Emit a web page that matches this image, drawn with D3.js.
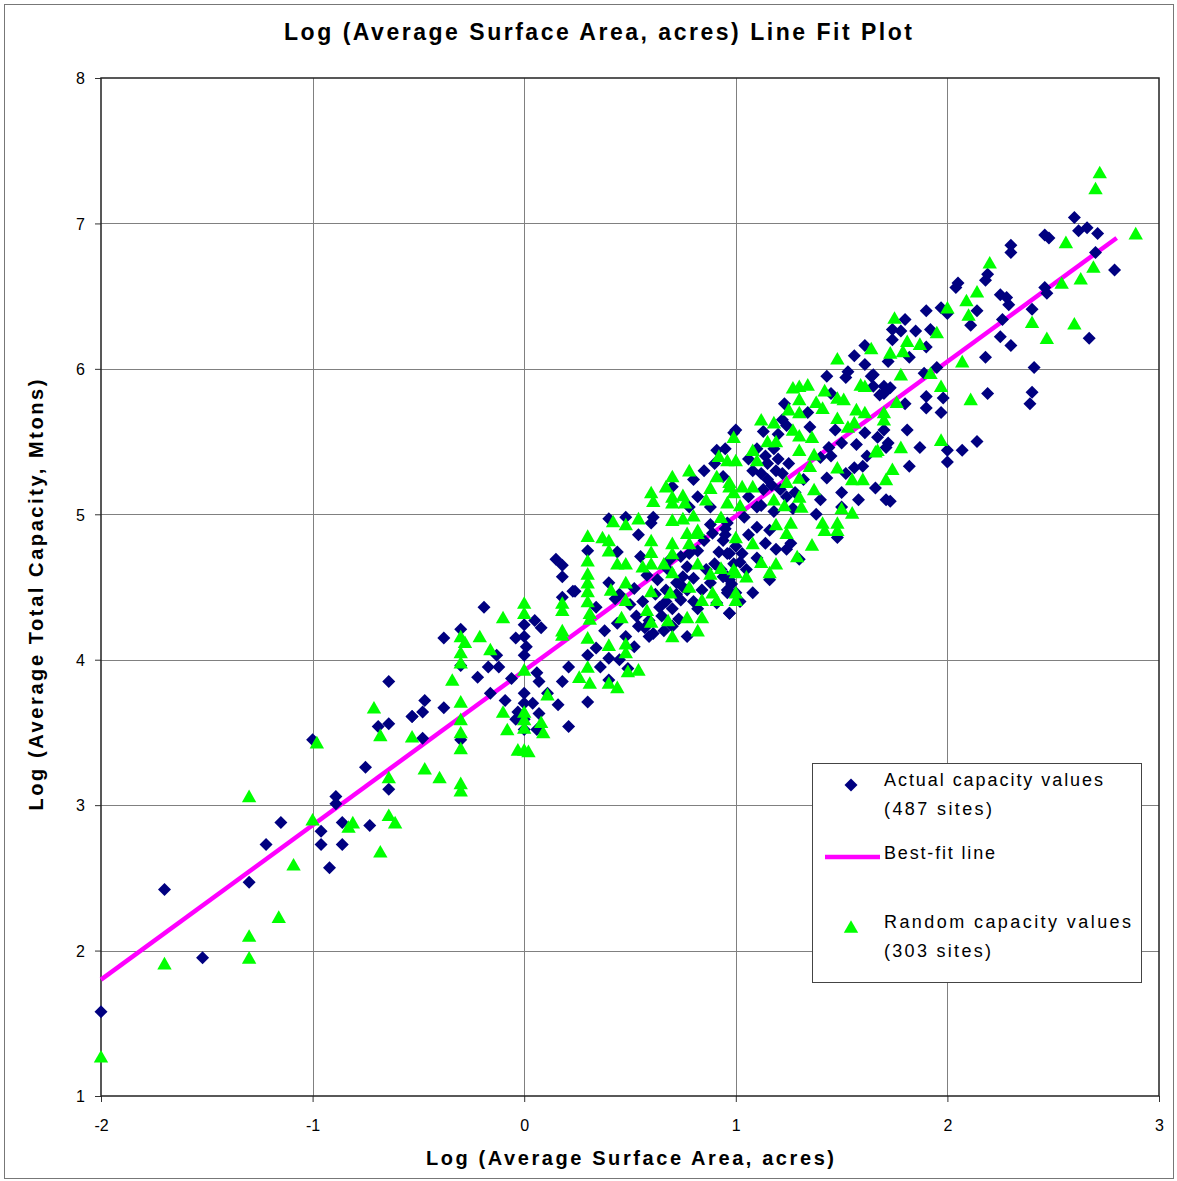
<!DOCTYPE html>
<html lang="en">
<head>
  <meta charset="UTF-8">
  <title>Log (Average Surface Area, acres) Line Fit Plot</title>
  <style>
    body {
      margin: 0;
      background: #fff;
      font-family: "Liberation Sans", Arial, sans-serif;
    }
    svg {
      display: block;
    }
  </style>
  <script src="https://d3js.org/d3.v7.min.js"></script>
</head>
<body>

<svg width="1177" height="1181"></svg>

<script>
  // values: [log area, log capacity]
  const actualSites = [
    [-0.64,3.85],[-0.53,3.61],[-0.69,3.54],[-0.64,3.56],[-1.00,3.45],[-0.75,3.26],[-0.89,3.06],[-0.89,3.01],
    [-0.64,3.11],[-1.15,2.88],[-0.86,2.88],[-0.73,2.86],[-0.96,2.82],[-1.22,2.73],[-0.96,2.73],[-0.86,2.73],
    [-0.92,2.57],[-1.30,2.47],[-1.70,2.42],[-1.52,1.95],[-2.00,1.58],
    [0.15,4.69],[0.18,4.65],[0.18,4.57],[0.23,4.47],[0.18,4.43],[-0.19,4.36],[0.05,4.27],[0.08,4.22],
    [0.00,4.24],[-0.30,4.21],[-0.38,4.15],[-0.04,4.15],[0.00,4.16],[0.01,4.09],[-0.13,4.03],[0.00,4.03],
    [-0.17,3.95],[-0.12,3.95],[-0.30,3.96],[0.21,3.95],[-0.22,3.88],[0.06,3.91],[-0.06,3.87],[0.07,3.85],
    [0.18,3.85],[-0.16,3.77],[0.00,3.77],[0.11,3.77],[-0.47,3.72],[-0.09,3.72],[0.04,3.70],[0.16,3.69],
    [0.00,3.70],[-0.38,3.67],[-0.48,3.64],[-0.03,3.64],[0.07,3.63],[-0.53,3.61],[-0.04,3.59],[0.00,3.59],
    [0.21,3.54],[0.06,3.52],[-0.48,3.46],[-0.30,3.45],[0.00,3.52],
    [0.24,4.47],[0.30,4.75],[0.44,4.74],[0.54,4.86],[0.55,4.71],[0.60,4.94],[0.40,4.53],[0.43,4.42],
    [0.52,4.49],[0.34,4.36],[0.53,4.30],[0.54,4.23],[0.59,4.27],[0.64,4.36],[0.67,4.48],[0.67,4.40],
    [0.74,4.41],[0.72,4.53],[0.75,4.57],[0.75,4.50],[0.77,4.48],[0.77,4.64],[0.78,4.73],[0.82,4.75],
    [0.85,4.82],[0.89,4.87],[0.94,4.82],[0.97,4.73],[0.99,4.66],[0.97,4.55],[0.96,4.46],[0.97,4.32],
    [0.90,4.66],[0.61,4.18],[0.66,4.20],[0.70,4.23],[0.77,4.16],[0.59,4.16],[0.48,4.16],[0.52,4.09],
    [0.34,4.08],[0.40,4.01],[0.30,4.03],[0.36,3.95],[0.45,4.00],[0.49,3.94],[0.40,3.86],[0.30,3.71],
    [0.69,4.69],[0.74,4.71],[0.88,4.53],[0.91,4.39],[0.94,4.57],[1.00,4.46],
    [0.45,4.45],[0.50,4.38],[0.56,4.40],[0.62,4.45],[0.65,4.30],[0.70,4.35],[0.72,4.45],[0.63,4.55],
    [0.58,4.58],[0.68,4.62],[0.80,4.40],[0.82,4.35],[0.73,4.28],[0.57,4.22],[0.44,4.25],[0.38,4.20],
    [0.86,4.62],[0.92,4.74],[0.88,4.93],[0.95,4.90],[0.80,4.56],[0.84,4.48],
    [0.99,5.56],[0.91,5.44],[0.80,5.24],[0.70,5.19],[0.82,5.12],[0.61,4.98],[0.48,4.98],[0.40,4.97],
    [0.85,5.30],[0.90,5.35],[0.95,5.45],[0.88,5.05],[0.78,5.05],
    [1.23,5.76],[1.22,5.65],[1.24,5.61],[1.34,5.70],[1.35,5.60],[1.45,5.83],[1.47,5.58],[1.44,5.46],
    [1.40,5.39],[1.50,5.49],[1.57,5.48],[1.61,5.56],[1.70,5.83],[1.72,5.49],[1.56,5.32],[1.60,5.33],
    [1.43,5.25],[1.50,5.15],[1.71,5.10],[1.50,5.05],[1.48,4.84],[1.00,5.58],[1.13,5.57],[1.15,5.35],
    [1.19,5.30],[1.15,5.24],[1.21,5.17],[1.24,5.12],[1.13,5.17],[1.10,5.05],[1.12,5.06],[1.27,5.04],
    [1.32,5.24],[0.94,5.26],[0.96,4.94],[1.04,4.98],[1.10,4.91],[1.16,4.89],[1.06,4.86],[1.14,4.80],
    [1.19,4.76],[1.24,4.76],[1.26,4.80],[1.30,4.69],[0.96,4.73],[1.03,4.73],[1.02,4.67],[0.96,4.57],
    [1.16,4.55],[1.08,4.46],[0.96,4.48],[0.97,4.32],
    [1.10,5.45],[1.14,5.40],[1.18,5.45],[1.20,5.38],[1.22,5.28],[1.17,5.20],[1.12,5.28],[1.08,5.30],
    [1.06,5.12],[1.18,5.02],[1.25,5.35],[1.28,5.15],[1.06,5.38],[1.20,5.55],
    [0.95,4.86],[1.00,4.78],[1.05,4.62],[0.98,4.52],[1.10,4.70],[1.02,4.40],[0.93,4.62],
    [1.45,5.40],[1.52,5.28],[1.62,5.40],[1.66,5.18],[1.58,5.10],[1.40,5.10],[1.38,5.00],
    [2.46,6.92],[2.30,6.85],[2.30,6.80],[2.19,6.65],[2.18,6.61],[2.05,6.59],[2.04,6.56],[2.25,6.51],
    [2.28,6.49],[2.29,6.44],[2.14,6.40],[2.00,6.38],[1.97,6.42],[2.11,6.30],[1.90,6.40],[1.80,6.34],
    [1.74,6.27],[1.78,6.26],[1.85,6.26],[1.92,6.27],[1.74,6.20],[2.40,6.41],[2.46,6.56],[2.26,6.34],
    [2.25,6.22],[2.30,6.16],[1.90,6.15],[1.82,6.08],[1.72,6.05],[2.18,6.08],[1.95,6.01],[1.89,5.97],
    [2.41,6.01],[1.65,5.96],[1.65,5.88],[1.70,5.88],[1.73,5.87],[1.68,5.82],[1.80,5.76],[1.90,5.81],
    [1.98,5.80],[1.90,5.73],[1.97,5.70],[2.19,5.83],[2.40,5.84],[2.39,5.76],[1.81,5.58],[1.70,5.58],
    [1.67,5.53],[1.71,5.46],[1.87,5.46],[2.00,5.44],[2.00,5.36],[2.07,5.44],[2.14,5.50],[1.82,5.33],
    [2.60,7.04],[2.62,6.95],[2.66,6.97],[2.71,6.93],[2.48,6.90],[2.70,6.80],[2.79,6.68],[2.47,6.52],
    [2.67,6.21],
    [1.61,6.16],[1.56,6.09],[1.61,6.03],[1.53,5.98],[1.43,5.95],[1.64,5.95],[1.52,5.94],[1.73,5.09]
  ];

  const randomSites = [
    [-0.71,3.67],[-0.68,3.48],[-0.53,3.47],[-0.98,3.43],[-1.30,3.06],[-0.64,3.19],[-1.00,2.90],[-0.81,2.88],
    [-0.83,2.85],[-0.64,2.93],[-0.61,2.88],[-0.68,2.68],[-1.09,2.59],[-1.16,2.23],[-1.30,2.10],[-1.30,1.95],
    [-1.70,1.91],[-2.00,1.27],[-0.47,3.25],
    [0.00,4.39],[0.00,4.32],[0.18,4.39],[0.18,4.34],[-0.10,4.29],[0.18,4.20],[0.18,4.17],[-0.30,4.16],
    [-0.28,4.12],[-0.21,4.16],[-0.30,4.05],[-0.30,3.98],[-0.16,4.07],[0.00,3.93],[-0.34,3.86],[0.11,3.76],
    [-0.30,3.71],[-0.10,3.64],[0.00,3.64],[0.00,3.59],[-0.30,3.59],[0.08,3.57],[-0.08,3.52],[0.00,3.53],
    [0.09,3.50],[-0.30,3.50],[-0.30,3.39],[-0.03,3.38],[0.00,3.38],[0.02,3.37],[-0.40,3.19],[-0.30,3.15],
    [-0.30,3.10],[0.26,3.88],
    [0.30,4.85],[0.30,4.68],[0.30,4.59],[0.30,4.53],[0.30,4.47],[0.30,4.40],[0.31,4.32],[0.31,4.28],
    [0.37,4.84],[0.40,4.82],[0.40,4.75],[0.44,4.66],[0.48,4.66],[0.41,4.48],[0.48,4.53],[0.48,4.41],
    [0.46,4.29],[0.60,4.82],[0.60,4.74],[0.60,4.66],[0.56,4.64],[0.66,4.66],[0.70,4.80],[0.70,4.73],
    [0.70,4.60],[0.69,4.46],[0.60,4.47],[0.58,4.34],[0.60,4.26],[0.68,4.27],[0.77,4.29],[0.84,4.29],
    [0.82,4.20],[0.70,4.16],[0.77,4.87],[0.82,4.87],[0.78,4.80],[0.82,4.66],[0.88,4.59],[0.93,4.63],
    [0.84,4.41],[0.89,4.46],[0.91,4.41],[0.99,4.62],[1.00,4.46],[0.78,4.50],[0.30,4.15],[0.40,4.10],
    [0.48,4.11],[0.48,4.05],[0.30,3.95],[0.31,3.84],[0.40,3.84],[0.44,3.81],[0.49,3.92],[0.54,3.93],
    [0.99,5.53],[0.92,5.40],[0.96,5.37],[0.78,5.30],[0.70,5.26],[0.67,5.19],[0.60,5.15],[0.61,5.09],
    [0.70,5.12],[0.70,5.08],[0.75,5.13],[0.76,5.08],[0.88,5.18],[0.86,5.10],[0.91,5.26],[0.97,5.22],
    [0.54,4.97],[0.48,4.93],[0.42,4.95],[0.70,4.96],[0.75,4.97],[0.80,4.99],[0.93,4.98],[0.82,4.89],
    [1.27,5.87],[1.30,5.88],[1.34,5.89],[1.30,5.79],[1.30,5.70],[1.25,5.72],[1.42,5.85],[1.38,5.77],
    [1.41,5.73],[1.48,5.80],[1.51,5.79],[1.48,5.66],[1.53,5.60],[1.57,5.72],[1.61,5.70],[1.59,5.89],
    [1.61,5.88],[1.56,5.63],[1.12,5.65],[1.18,5.63],[1.15,5.50],[1.19,5.50],[1.27,5.58],[1.30,5.54],
    [1.36,5.53],[1.30,5.44],[1.37,5.41],[1.35,5.33],[1.30,5.25],[1.24,5.22],[1.37,5.17],[1.30,5.12],
    [1.23,5.06],[1.18,5.10],[1.31,5.05],[1.48,5.32],[1.55,5.24],[1.60,5.24],[1.67,5.44],[1.71,5.24],
    [1.50,5.04],[1.55,5.01],[1.08,5.44],[1.10,5.37],[1.00,5.37],[0.97,5.19],[1.03,5.19],[1.08,5.19],
    [0.99,5.15],[1.02,5.06],[0.96,5.08],[1.19,4.93],[1.26,4.94],[1.24,4.87],[1.41,4.94],[1.42,4.89],
    [1.48,4.94],[1.48,4.89],[1.36,4.79],[1.00,4.84],[1.08,4.80],[1.12,4.67],[1.19,4.66],[1.16,4.60],
    [1.29,4.71],[1.00,4.60],[1.05,4.57],[1.00,4.41],
    [2.20,6.73],[2.14,6.53],[2.09,6.47],[2.00,6.42],[2.10,6.37],[2.40,6.32],[2.47,6.21],[1.75,6.35],
    [1.95,6.25],[1.81,6.19],[1.87,6.17],[1.73,6.11],[1.79,6.12],[1.64,6.14],[2.07,6.05],[1.78,5.96],
    [1.92,5.97],[1.97,5.88],[2.11,5.79],[1.76,5.77],[1.70,5.70],[1.70,5.65],[1.97,5.51],[1.78,5.46],
    [1.66,5.43],[1.74,5.31],
    [2.72,7.35],[2.70,7.24],[2.89,6.93],[2.56,6.87],[2.69,6.70],[2.63,6.62],[2.54,6.59],[2.60,6.31],
    [1.48,6.07]
  ];

  const fitLine = [[-2.0, 1.80], [2.8, 6.90]];

  const xTicks = [-2, -1, 0, 1, 2, 3];
  const yTicks = [1, 2, 3, 4, 5, 6, 7, 8];

  const legendItems = [
    { kind: "diamond", lines: ["Actual capacity values", "(487 sites)"] },
    { kind: "line", lines: ["Best-fit line"] },
    { kind: "triangle", lines: ["Random capacity values", "(303 sites)"] }
  ];

  const svg = d3.select("svg"),
        width = +svg.attr("width"),
        height = +svg.attr("height");

  const plot = { left: 101, right: 1159, top: 78, bottom: 1096 };

  const x = d3.scaleLinear().domain([-2, 3]).range([plot.left, plot.right]);
  const y = d3.scaleLinear().domain([1, 8]).range([plot.bottom, plot.top]);

  const diamond = "M0,-6.5L6.5,0L0,6.5L-6.5,0Z";
  const triangle = "M0,-6.8L7.2,5.8L-7.2,5.8Z";

  // outer frame of the picture
  svg.append("rect")
    .attr("x", 4.5).attr("y", 4.5)
    .attr("width", width - 8).attr("height", height - 7)
    .attr("fill", "#fff")
    .attr("stroke", "#777");

  // title
  svg.append("text")
    .attr("x", 598).attr("y", 40)
    .attr("text-anchor", "middle")
    .attr("font-size", 23).attr("font-weight", "bold")
    .attr("textLength", 628).attr("lengthAdjust", "spacing")
    .text("Log (Average Surface Area, acres) Line Fit  Plot");

  // grid
  const grid = svg.append("g").attr("stroke", "#808080").attr("stroke-width", 1);
  grid.selectAll(".gx")
    .data(xTicks.slice(1, -1))
    .enter().append("line")
      .attr("x1", d => Math.round(x(d)) + 0.5).attr("x2", d => Math.round(x(d)) + 0.5)
      .attr("y1", plot.top).attr("y2", plot.bottom);
  grid.selectAll(".gy")
    .data(yTicks.slice(1, -1))
    .enter().append("line")
      .attr("y1", d => Math.round(y(d)) + 0.5).attr("y2", d => Math.round(y(d)) + 0.5)
      .attr("x1", plot.left).attr("x2", plot.right);

  // axes
  const fmt = d => String(d);
  const xAxis = svg.append("g")
    .attr("transform", `translate(0,${plot.bottom})`)
    .call(d3.axisBottom(x).tickValues(xTicks).tickFormat(fmt).tickSize(6).tickPadding(18));
  const yAxis = svg.append("g")
    .attr("transform", `translate(${plot.left},0)`)
    .call(d3.axisLeft(y).tickValues(yTicks).tickFormat(fmt).tickSize(6).tickPadding(10));

  [xAxis, yAxis].forEach(g => {
    g.select(".domain").remove();
    g.selectAll("line").attr("stroke", "#333");
    g.selectAll("text")
      .attr("font-size", 16)
      .attr("font-family", "'Liberation Sans', Arial, sans-serif")
      .attr("fill", "#000");
  });
  yAxis.selectAll("text").attr("dy", "0.36em");

  // plot frame
  svg.append("rect")
    .attr("x", plot.left).attr("y", plot.top)
    .attr("width", plot.right - plot.left).attr("height", plot.bottom - plot.top)
    .attr("fill", "none")
    .attr("stroke", "#222")
    .attr("stroke-width", 1.5);

  // axis titles
  svg.append("text")
    .attr("x", 630).attr("y", 1165)
    .attr("text-anchor", "middle")
    .attr("font-size", 20).attr("font-weight", "bold")
    .attr("textLength", 408).attr("lengthAdjust", "spacing")
    .text("Log (Average Surface Area, acres)");

  svg.append("text")
    .attr("transform", "translate(43,595) rotate(-90)")
    .attr("text-anchor", "middle")
    .attr("font-size", 20).attr("font-weight", "bold")
    .attr("textLength", 431).attr("lengthAdjust", "spacing")
    .text("Log (Average Total Capacity, Mtons)");

  // best-fit line
  svg.append("path")
    .datum(fitLine)
    .attr("fill", "none")
    .attr("stroke", "#ff00ff")
    .attr("stroke-width", 4.5)
    .attr("d", d3.line().x(d => x(d[0])).y(d => y(d[1])));

  // actual sites
  svg.append("g")
    .selectAll("path")
    .data(actualSites)
    .enter().append("path")
      .attr("d", diamond)
      .attr("transform", d => `translate(${x(d[0])},${y(d[1])})`)
      .attr("fill", "#000080");

  // random sites
  svg.append("g")
    .selectAll("path")
    .data(randomSites)
    .enter().append("path")
      .attr("d", triangle)
      .attr("transform", d => `translate(${x(d[0])},${y(d[1])})`)
      .attr("fill", "#00ff00");

  // legend
  const legend = svg.append("g").attr("class", "legend");
  legend.append("rect")
    .attr("x", 812.5).attr("y", 763.5)
    .attr("width", 329).attr("height", 219)
    .attr("fill", "#fff")
    .attr("stroke", "#444");

  const legendRows = [
    { top: 786, lengths: [219, 108] },
    { top: 859, lengths: [111] },
    { top: 928, lengths: [247, 107] }
  ];

  legendItems.forEach((item, i) => {
    const row = legendRows[i];
    const markY = i === 1 ? row.top - 2 : row.top - 1;
    if (item.kind === "diamond") {
      legend.append("path").attr("d", diamond)
        .attr("transform", `translate(851,${markY})`).attr("fill", "#000080");
    } else if (item.kind === "triangle") {
      legend.append("path").attr("d", triangle)
        .attr("transform", `translate(851,${markY})`).attr("fill", "#00ff00");
    } else {
      legend.append("line")
        .attr("x1", 825).attr("x2", 880)
        .attr("y1", markY).attr("y2", markY)
        .attr("stroke", "#ff00ff").attr("stroke-width", 4.5);
    }
    item.lines.forEach((t, j) => {
      legend.append("text")
        .attr("x", 884).attr("y", row.top + j * 29)
        .attr("font-size", 18)
        .attr("textLength", row.lengths[j]).attr("lengthAdjust", "spacing")
        .text(t);
    });
  });
</script>

</body>
</html>
